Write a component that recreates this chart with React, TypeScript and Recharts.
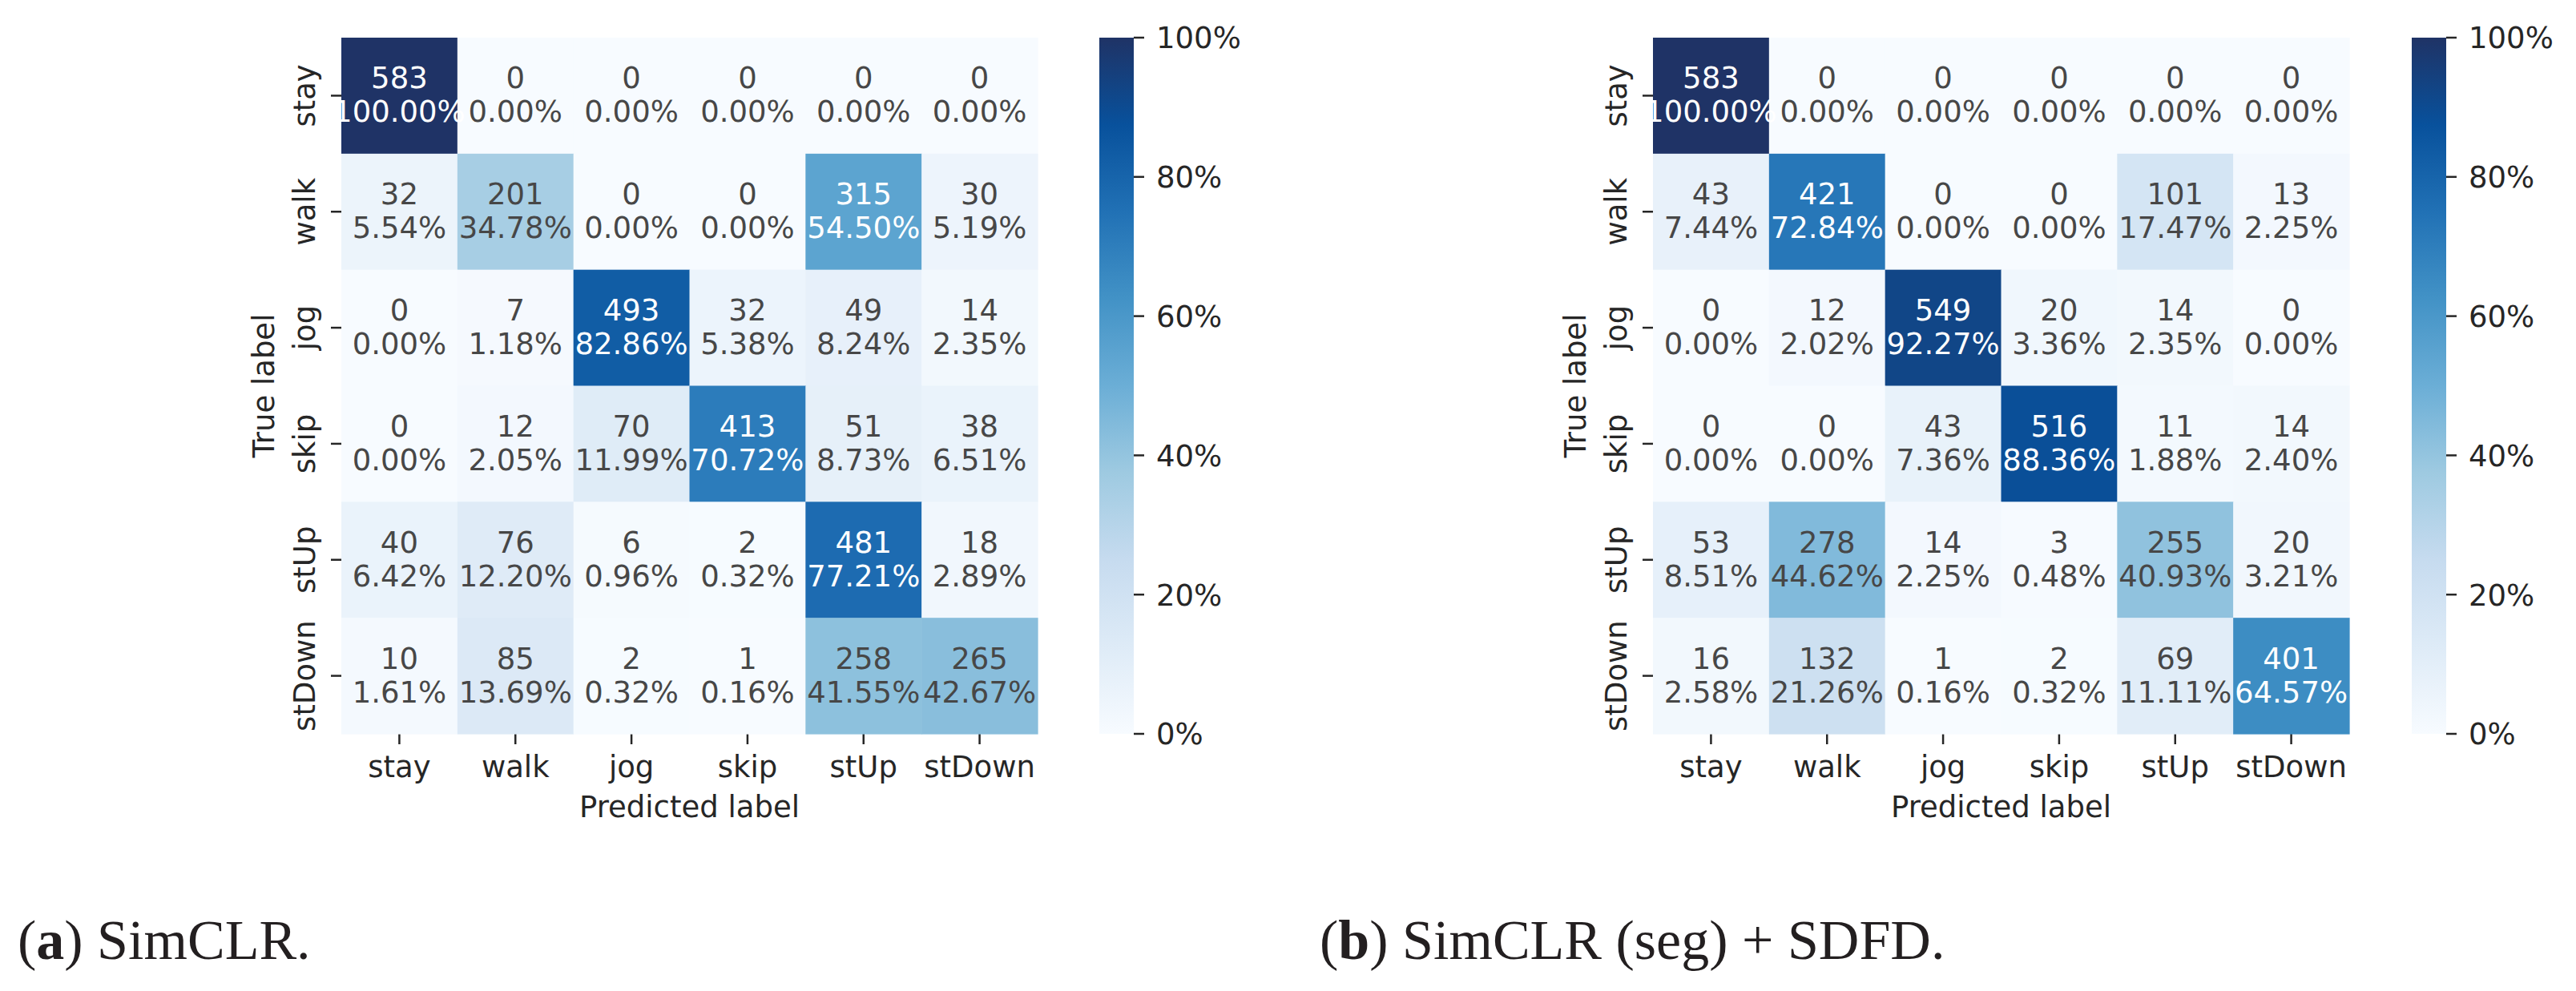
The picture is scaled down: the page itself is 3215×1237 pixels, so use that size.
import React from "react";
import { ScatterChart, Scatter, XAxis, YAxis, Label, BarChart, Bar } from "recharts";

// class order on both axes
const CLASSES = ["stay", "walk", "jog", "skip", "stUp", "stDown"];

// (a) SimCLR
const simclrCounts = [
  [583, 0, 0, 0, 0, 0],
  [32, 201, 0, 0, 315, 30],
  [0, 7, 493, 32, 49, 14],
  [0, 12, 70, 413, 51, 38],
  [40, 76, 6, 2, 481, 18],
  [10, 85, 2, 1, 258, 265],
];
const simclrPercents = [
  [100.0, 0.0, 0.0, 0.0, 0.0, 0.0],
  [5.54, 34.78, 0.0, 0.0, 54.5, 5.19],
  [0.0, 1.18, 82.86, 5.38, 8.24, 2.35],
  [0.0, 2.05, 11.99, 70.72, 8.73, 6.51],
  [6.42, 12.2, 0.96, 0.32, 77.21, 2.89],
  [1.61, 13.69, 0.32, 0.16, 41.55, 42.67],
];

// (b) SimCLR (seg) + SDFD
const sdfdCounts = [
  [583, 0, 0, 0, 0, 0],
  [43, 421, 0, 0, 101, 13],
  [0, 12, 549, 20, 14, 0],
  [0, 0, 43, 516, 11, 14],
  [53, 278, 14, 3, 255, 20],
  [16, 132, 1, 2, 69, 401],
];
const sdfdPercents = [
  [100.0, 0.0, 0.0, 0.0, 0.0, 0.0],
  [7.44, 72.84, 0.0, 0.0, 17.47, 2.25],
  [0.0, 2.02, 92.27, 3.36, 2.35, 0.0],
  [0.0, 0.0, 7.36, 88.36, 1.88, 2.4],
  [8.51, 44.62, 2.25, 0.48, 40.93, 3.21],
  [2.58, 21.26, 0.16, 0.32, 11.11, 64.57],
];

const COLORBAR_TICKS = [0, 20, 40, 60, 80, 100];
const CELL_TICKS = CLASSES.map((_, i) => i + 0.5);

// layout
const PLOT_TOP = 47;
const PLOT = 869;
const CELL = PLOT / CLASSES.length;
const Y_AXIS_W = 130;
const X_AXIS_H = 130;
const BAR_W = 43;
const FONT = "'DejaVu Sans', sans-serif";
const FS = 37;
const INK = "#262626";
const ANNOT = "#474747";

// matplotlib "Blues"
const BLUES = ["#f7fbff", "#deebf7", "#c6dbef", "#9ecae1", "#6baed6", "#4292c6", "#2171b5", "#08519c", "#1f3366"];

function hexToRgb(h: string) {
  return [1, 3, 5].map((i) => parseInt(h.slice(i, i + 2), 16));
}

function blues(t: number) {
  const v = Math.max(0, Math.min(1, t)) * (BLUES.length - 1);
  const i = Math.min(Math.floor(v), BLUES.length - 2);
  const f = v - i;
  const a = hexToRgb(BLUES[i]);
  const b = hexToRgb(BLUES[i + 1]);
  return `rgb(${a.map((c, k) => Math.round(c + (b[k] - c) * f)).join(",")})`;
}

const XTick = ({ x, y, payload }: any) => (
  <text x={x} y={y + 41} textAnchor="middle" fontSize={FS} fontFamily={FONT} fill={INK}>
    {CLASSES[Math.floor(payload.value)]}
  </text>
);

const YTick = ({ x, y, payload }: any) => (
  <text x={x} y={y} transform={`rotate(-90 ${x} ${y})`} textAnchor="middle" fontSize={FS} fontFamily={FONT} fill={INK}>
    {CLASSES[Math.floor(payload.value)]}
  </text>
);

const XTitle = ({ viewBox }: any) => (
  <text x={viewBox.x + viewBox.width / 2} y={viewBox.y + 104} textAnchor="middle" fontSize={FS} fontFamily={FONT} fill={INK}>
    Predicted label
  </text>
);

const YTitle = ({ viewBox }: any) => {
  const x = viewBox.x + viewBox.width - 84;
  const y = viewBox.y + viewBox.height / 2;
  return (
    <text x={x} y={y} transform={`rotate(-90 ${x} ${y})`} textAnchor="middle" fontSize={FS} fontFamily={FONT} fill={INK}>
      True label
    </text>
  );
};

const CellRect = ({ cx, cy, payload }: any) => (
  <rect x={cx - CELL / 2} y={cy - CELL / 2} width={CELL + 0.6} height={CELL + 0.6} fill={blues(payload.pct / 100)} />
);

const CellText = ({ cx, cy, payload }: any) => {
  const fill = payload.pct >= 50 ? "#ffffff" : ANNOT;
  return (
    <g fontSize={FS} fontFamily={FONT} fill={fill} textAnchor="middle">
      <text x={cx} y={cy - 9}>{payload.count}</text>
      <text x={cx} y={cy + 33}>{payload.pct.toFixed(2)}%</text>
    </g>
  );
};

const BarTick = ({ x, y, payload }: any) => (
  <text x={x} y={y} dy="0.36em" textAnchor="start" fontSize={FS} fontFamily={FONT} fill={INK}>
    {payload.value}%
  </text>
);

function Matrix({ left, counts, percents }: { left: number; counts: number[][]; percents: number[][] }) {
  const data = counts.flatMap((row, r) =>
    row.map((count, c) => ({ x: c + 0.5, y: r + 0.5, count, pct: percents[r][c] }))
  );
  return (
    <div style={{ position: "absolute", left: left - Y_AXIS_W, top: 0 }}>
      <ScatterChart
        width={Y_AXIS_W + PLOT + 20}
        height={PLOT_TOP + PLOT + X_AXIS_H}
        margin={{ top: PLOT_TOP, right: 20, bottom: 0, left: 0 }}
      >
        <XAxis
          type="number"
          dataKey="x"
          domain={[0, 6]}
          ticks={CELL_TICKS}
          interval={0}
          height={X_AXIS_H}
          axisLine={false}
          tickLine={{ stroke: INK, strokeWidth: 2.5 }}
          tickSize={13}
          tickMargin={0}
          tick={XTick}
        >
          <Label content={XTitle} />
        </XAxis>
        <YAxis
          type="number"
          dataKey="y"
          domain={[0, 6]}
          reversed
          ticks={CELL_TICKS}
          interval={0}
          width={Y_AXIS_W}
          axisLine={false}
          tickLine={{ stroke: INK, strokeWidth: 2.5 }}
          tickSize={13}
          tickMargin={20}
          tick={YTick}
        >
          <Label content={YTitle} />
        </YAxis>
        <Scatter data={data} shape={CellRect} isAnimationActive={false} />
        <Scatter data={data} shape={CellText} isAnimationActive={false} />
      </ScatterChart>
    </div>
  );
}

function ColorBar({ left, id }: { left: number; id: string }) {
  const stops = BLUES.map((_, i) => i / (BLUES.length - 1));
  return (
    <div style={{ position: "absolute", left, top: 0 }}>
      <BarChart
        width={BAR_W + 200}
        height={PLOT_TOP + PLOT + 60}
        data={[{ name: "scale", value: 100 }]}
        margin={{ top: PLOT_TOP, right: 0, bottom: 60, left: 0 }}
        barCategoryGap={0}
      >
        <defs>
          <linearGradient id={id} x1="0" y1="0" x2="0" y2="1">
            {stops.map((s) => (
              <stop key={s} offset={s} stopColor={blues(1 - s)} />
            ))}
          </linearGradient>
        </defs>
        <XAxis dataKey="name" hide />
        <YAxis
          orientation="right"
          domain={[0, 100]}
          ticks={COLORBAR_TICKS}
          interval={0}
          width={200}
          axisLine={false}
          tickLine={{ stroke: INK, strokeWidth: 2.5 }}
          tickSize={13}
          tickMargin={15}
          tick={BarTick}
        />
        <Bar dataKey="value" fill={`url(#${id})`} isAnimationActive={false} />
      </BarChart>
    </div>
  );
}

export default function App() {
  return (
    <div style={{ position: "absolute", left: 0, top: 0, width: 3215, height: 1237, background: "#ffffff" }}>
      <Matrix left={426} counts={simclrCounts} percents={simclrPercents} />
      <ColorBar left={1372} id="cbar-a" />
      <Matrix left={2063} counts={sdfdCounts} percents={sdfdPercents} />
      <ColorBar left={3010} id="cbar-b" />
      <svg width={3215} height={1237} style={{ position: "absolute", left: 0, top: 0, pointerEvents: "none" }}>
        <g fontFamily="'Liberation Serif', serif" fontSize={70} fill="#231f20">
          <text x={22} y={1197}>
            (<tspan fontWeight="bold">a</tspan>) SimCLR.
          </text>
          <text x={1647} y={1197}>
            (<tspan fontWeight="bold">b</tspan>) SimCLR (seg) + SDFD.
          </text>
        </g>
      </svg>
    </div>
  );
}
